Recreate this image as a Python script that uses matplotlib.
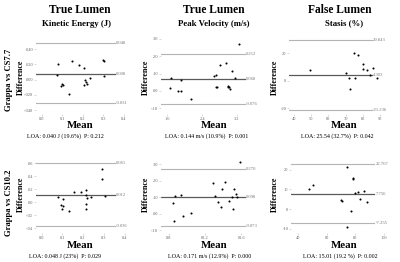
import matplotlib
matplotlib.use("Agg")
import matplotlib.pyplot as plt

plt.rcParams['font.family'] = ['Liberation Serif', 'DejaVu Serif']

# ---- data ----
ke77_mean = [0.078, 0.074, 0.149, 0.183, 0.208, 0.299, 0.305, 0.305, 0.236, 0.211, 0.216, 0.222, 0.205, 0.101, 0.106, 0.094, 0.132]
ke77_diff = [0.020, 0.0066, 0.025, 0.019, 0.015, 0.0264, 0.025, 0.0053, 0.0026, -0.0004, -0.0026, -0.0062, -0.0075, -0.0053, -0.0066, -0.0079, -0.0185]
ke77_lines = [0.048, 0.008, -0.031]

pv77_mean = [3.246, 2.955, 2.80, 3.085, 2.672, 2.71, 3.147, 1.692, 1.92, 1.654, 1.853, 1.92, 2.733, 2.72, 3.001, 3.017, 2.986, 3.04, 2.15]
pv77_diff = [0.267, 0.162, 0.148, 0.117, 0.088, 0.090, 0.075, 0.075, 0.065, 0.015, -0.002, 0.002, 0.025, 0.021, 0.031, 0.025, 0.021, 0.0115, -0.046]
pv77_lines = [0.212, 0.068, -0.076]

st77_mean = [75.1, 77.1, 80.4, 49.1, 80.0, 82.3, 86.0, 70.3, 84.3, 71.7, 75.7, 88.5, 72.6]
st77_diff = [20.0, 19.0, 12.4, 7.8, 8.3, 7.6, 9.3, 5.9, 4.4, 2.0, 1.7, 2.0, -5.9]
st77_lines = [29.843, 4.303, -21.236]

ke102_mean = [0.290, 0.292, 0.157, 0.190, 0.213, 0.214, 0.221, 0.240, 0.305, 0.079, 0.102, 0.095, 0.106, 0.100, 0.133, 0.216, 0.213]
ke102_diff = [0.052, 0.036, 0.016, 0.016, 0.019, 0.011, 0.006, 0.008, 0.009, 0.008, 0.0056, -0.0036, -0.0056, -0.0097, -0.0133, -0.003, -0.011]
ke102_lines = [0.061, 0.012, -0.036]

pv102_mean = [1.587, 1.285, 1.425, 1.392, 1.517, 1.543, 1.315, 1.348, 1.469, 1.502, 1.554, 1.381, 1.506, 0.866, 0.932, 0.844, 0.962, 1.046, 0.859]
pv102_diff = [0.317, 0.188, 0.194, 0.152, 0.147, 0.117, 0.105, 0.069, 0.079, 0.099, 0.099, 0.038, 0.028, 0.109, 0.113, 0.065, -0.012, 0.006, -0.048]
pv102_lines = [0.270, 0.098, -0.073]

st102_mean = [74.3, 78.3, 78.5, 50.3, 47.2, 85.8, 80.0, 81.6, 83.5, 87.9, 69.7, 70.8, 76.7, 73.9]
st102_diff = [21.2, 15.9, 15.4, 12.0, 10.2, 9.3, 8.3, 8.6, 4.9, 3.4, 4.6, 4.2, -1.2, -9.0]
st102_lines = [22.767, 7.756, -7.255]

line_labels = {
    "ke77": ["0.048", "0.008", "-0.031"],
    "pv77": ["0.212", "0.068", "-0.076"],
    "st77": ["29.843", "4.303", "-21.236"],
    "ke102": ["0.061", "0.012", "-0.036"],
    "pv102": ["0.270", "0.098", "-0.073"],
    "st102": ["22.767", "7.756", "-7.255"],
}

W, H = 400, 262
fig = plt.figure(figsize=(W / 100, H / 100), dpi=100)


def lim_from_px(v0, p0, v1, p1, a, b):  # linear map pixel -> data value
    k = (v1 - v0) / (p1 - p0)
    return v0 + (a - p0) * k, v0 + (b - p0) * k


def panel(box, xmap, ymap, xs, ys, lines, labels, xt, xtl, yt, ytl, line_end):
    l, t, r, b = box
    ax = fig.add_axes([l / W, 1 - b / H, (r - l) / W, (b - t) / H])
    ax.set_xlim(*lim_from_px(*xmap, l, r))
    ax.set_ylim(*lim_from_px(*ymap, b, t))
    for i, (v, s) in enumerate(zip(lines, labels)):
        clr = "#5a5a5a" if i == 1 else "#b4b4b4"
        ax.plot([0, line_end], [v, v], color=clr, lw=0.9 if i == 1 else 0.8,
                transform=ax.get_yaxis_transform(), zorder=1)
        ax.text(line_end + 0.01, v, s, transform=ax.get_yaxis_transform(),
                fontsize=3.3, color="#777777", va="center", ha="left")
    ax.scatter(xs, ys, s=2.2, color="black", zorder=3, linewidths=0)
    ax.set_xticks(xt)
    ax.set_xticklabels(xtl)
    ax.set_yticks(yt)
    ax.set_yticklabels(ytl)
    ax.tick_params(labelsize=3.2, labelcolor="#666666", color="#bbbbbb",
                   length=1.2, width=0.4, pad=0.8)
    for sp in ax.spines.values():
        sp.set_visible(False)
    ax.patch.set_alpha(0)
    return ax


ke_xt = [0.0, 0.1, 0.2, 0.3, 0.4]
ke_xtl = ["0.0", "0.1", "0.2", "0.3", "0.4"]

panel((36, 36, 128, 114), (0.0, 41.5, 0.4, 124.0), (0.04, 49.3, -0.04, 110.0),
      ke77_mean, ke77_diff, ke77_lines, line_labels["ke77"],
      ke_xt, ke_xtl, [-0.04, -0.02, 0, 0.02, 0.04], ["-.040", "-.020", ".000", ".020", ".040"], 0.86)
panel((161, 36, 258, 114), (1.6, 167.3, 3.2, 237.0), (0.30, 38.7, -0.10, 108.3),
      pv77_mean, pv77_diff, pv77_lines, line_labels["pv77"],
      [1.6, 2.4, 3.2], ["1.6", "2.4", "3.2"], [-0.1, 0, 0.1, 0.2, 0.3], ["-.10", ".00", ".10", ".20", ".30"], 0.866)
panel((289, 36, 388, 114), (40, 294.0, 90, 380.0), (20, 53.3, -20, 108.3),
      st77_mean, st77_diff, st77_lines, line_labels["st77"],
      [40, 50, 60, 70, 80, 90], ["40", "50", "60", "70", "80", "90"], [-20, 0, 20], ["-20", "0", "20"], 0.84)
panel((36, 156, 128, 233), (0.0, 41.5, 0.4, 124.5), (0.06, 163.3, -0.04, 228.3),
      ke102_mean, ke102_diff, ke102_lines, line_labels["ke102"],
      ke_xt, ke_xtl, [-0.04, -0.02, 0, 0.02, 0.04, 0.06], ["-.04", "-.02", ".00", ".02", ".04", ".06"], 0.86)
panel((161, 156, 258, 233), (0.8, 168.7, 1.6, 241.3), (0.30, 164.3, -0.10, 230.0),
      pv102_mean, pv102_diff, pv102_lines, line_labels["pv102"],
      [0.8, 1.2, 1.6], ["0.8", "01.2", "01.6"], [-0.1, 0, 0.1, 0.2, 0.3], ["-.10", ".00", ".10", ".20", ".30"], 0.866)
panel((291, 156, 388, 233), (40, 298.3, 100, 384.0), (20, 169.7, -10, 228.7),
      st102_mean, st102_diff, st102_lines, line_labels["st102"],
      [40, 60, 80, 100], ["40", "60", "80", "100"], [-10, 0, 10, 20], ["-10", "0", "10", "20"], 0.86)


def txt(x, y, s, size, bold=False, rot=0, color="black"):
    fig.text(x / W, 1 - y / H, s, fontsize=size, fontweight="bold" if bold else "normal",
             rotation=rot, ha="center", va="center", color=color)


# column headers
txt(80, 10, "True Lumen", 8.3, True)
txt(214, 10, "True Lumen", 8.3, True)
txt(340, 10, "False Lumen", 8.3, True)
txt(76, 23.5, "Kinetic Energy (J)", 6.3, True)
txt(214, 23.5, "Peak Velocity (m/s)", 6.3, True)
txt(344, 23.5, "Stasis (%)", 6.3, True)

# row / axis labels
txt(9, 80, "Grappa vs CS7.7", 6.2, True, 90)
txt(9, 203, "Grappa vs CS10.2", 6.2, True, 90)
for xc in (20.5, 146, 275):
    txt(xc, 77, "Difference", 5.8, True, 90)
    txt(xc, 194, "Difference", 5.8, True, 90)
for xc in (80, 214, 344):
    txt(xc, 125.5, "Mean", 7.8, True)
    txt(xc, 246, "Mean", 7.8, True)

# LOA summary lines
txt(65, 136.5, "LOA: 0.040 J (19.6%)  P: 0.212", 4.3)
txt(207, 136.5, "LOA: 0.144 m/s (10.9%)  P: 0.001", 4.3)
txt(337, 136.5, "LOA: 25.54 (32.7%)  P: 0.042", 4.3)
txt(65, 256, "LOA: 0.048 J (23%)  P: 0.029", 4.3)
txt(210, 256, "LOA: 0.171 m/s (12.9%)  P: 0.000", 4.3)
txt(340, 256, "LOA: 15.01 (19.2 %)  P: 0.002", 4.3)

plt.savefig("out.png", dpi=100)
